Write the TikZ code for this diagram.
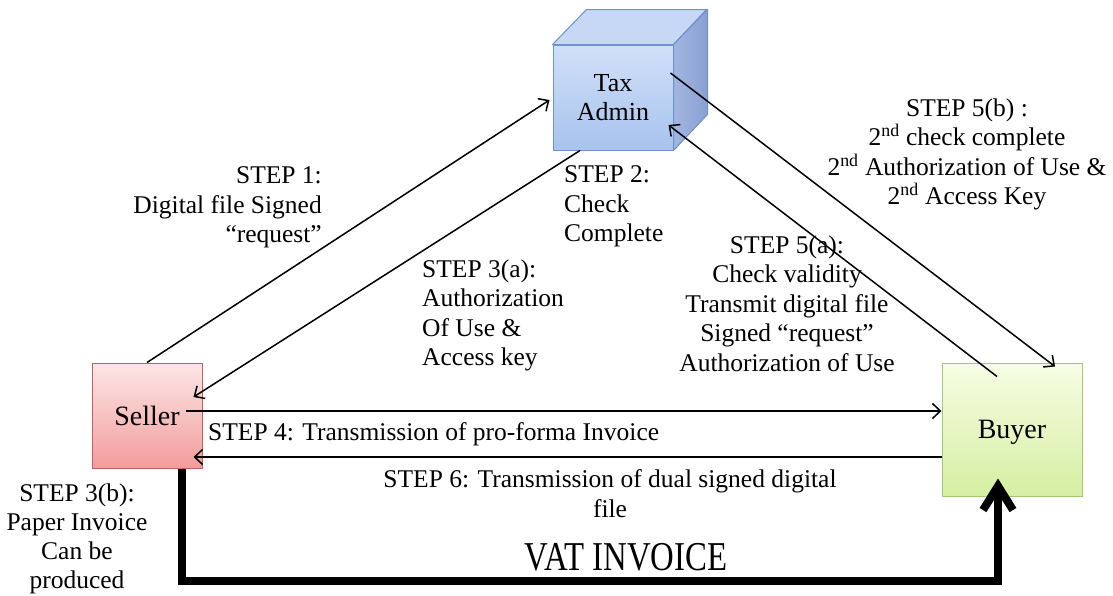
\documentclass[tikz,border=0pt]{standalone}
\usepackage{fontspec}
\setmainfont{Liberation Serif}
\usetikzlibrary{arrows.meta}
\definecolor{sellTop}{HTML}{FDE6E6}
\definecolor{sellBot}{HTML}{F39C9C}
\definecolor{sellLine}{HTML}{C2625F}
\definecolor{buyTop}{HTML}{F7FDE4}
\definecolor{buyBot}{HTML}{D5EFA2}
\definecolor{buyLine}{HTML}{A6C47A}
\definecolor{cubeTop}{HTML}{D0E0F8}
\definecolor{cubeBot}{HTML}{A8C3EE}
\definecolor{cubeLid}{HTML}{C7D8F5}
\definecolor{cubeSideA}{HTML}{A2B6E0}
\definecolor{cubeSideB}{HTML}{8AA0D2}
\definecolor{cubeLine}{HTML}{6F92CC}
\begin{document}
\begin{tikzpicture}[x=1pt,y=-1pt,
  lbl/.style={font=\fontsize{25.5}{29.5}\selectfont, inner sep=0pt},
  boxtext/.style={font=\fontsize{28}{30}\selectfont, inner sep=0pt},
  sellerbox/.style={boxtext, draw=sellLine, line width=1pt, top color=sellTop, bottom color=sellBot, minimum width=110pt, minimum height=105pt},
  buyerbox/.style={boxtext, draw=buyLine, line width=1pt, top color=buyTop, bottom color=buyBot, minimum width=140pt, minimum height=133pt, text height=18pt, text depth=0pt},
  cubefront/.style={font=\fontsize{26}{29}\selectfont, inner sep=0pt, align=center, draw=cubeLine, line width=1pt, top color=cubeTop, bottom color=cubeBot, minimum width=120pt, minimum height=105pt},
  arr/.style={line width=1.5pt, -{Straight Barb[length=8pt,width=15pt]}},
  bigarr/.style={line width=8pt, line join=miter, -{Straight Barb[length=24pt,width=30pt]}}
]
\useasboundingbox (0,0) rectangle (1113,595);
\fill[white] (0,0) rectangle (1113,595);

% boxes
\node[sellerbox] (seller) at (147,415.5) {Seller};
\node[buyerbox] (buyer) at (1012,429.5) {Buyer};
\node[cubefront] (tax) at (613,97.5) {\raisebox{-2pt}{Tax}\\\raisebox{-2pt}{Admin}};
\draw[cubeLine, line width=1pt, fill=cubeLid, line join=round]
  (tax.north west) -- ++(34,-35) -- ++(120,0) -- (tax.north east) -- cycle;
\draw[cubeLine, line width=1pt, left color=cubeSideA, right color=cubeSideB, line join=round]
  (tax.north east) -- ++(34,-35) -- ++(0,105) -- (tax.south east) -- cycle;

% connectors
\draw[arr] (seller.north) -- ([shift={(-3,2.5)}]tax.west);
\draw[arr] ([xshift=-33pt]tax.south) -- ([shift={(-9,-18.5)}]seller.east);
\draw[arr] ([shift={(-17,-4.5)}]seller.east) -- ([shift={(0,-18.5)}]buyer.west);
\draw[arr] ([shift={(0,27.5)}]buyer.west) -- ([shift={(-9,41.5)}]seller.east);
\draw[arr] ([shift={(-15,14)}]buyer.north) -- ([shift={(-5,27.5)}]tax.east);
\draw[arr] ([shift={(-3,-24.5)}]tax.east) -- ([shift={(43,4)}]buyer.north);
\draw[bigarr] ([xshift=35pt]seller.south) |- ([shift={(-14,84)}]buyer.south) -- ([shift={(-14,-18)}]buyer.south);

% labels
\node[lbl, anchor=north east, align=right] (l1) at (322,166.5) {STEP 1:\\Digital file Signed\\“request”};
\node[lbl, anchor=north west, align=left] (l2) at (564,165.5) {STEP 2:\\Check\\Complete};
\node[lbl, anchor=north west, align=left] (l3a) at (422,259.5) {STEP 3(a):\\Authorization\\Of Use \&\\Access key};
\node[lbl, anchor=north, align=center] (l5a) at (787,235.5) {STEP 5(a):\\Check validity\\Transmit digital file\\Signed “request”\\Authorization of Use};
\node[lbl, anchor=north, align=center] (l5b) at (967,98.5) {STEP 5(b) :\\2\textsuperscript{nd} check complete\\2\textsuperscript{nd} Authorization of Use \&\\2\textsuperscript{nd} Access Key};
\node[lbl, anchor=base west] (l4) at (208,440) {STEP 4: Transmission of pro-forma Invoice};
\node[lbl, anchor=north, align=center] (l6) at (610,469.5) {STEP 6: Transmission of dual signed digital\\file};
\node[lbl, anchor=north, align=center, font=\fontsize{25.5}{29}\selectfont] (l3b) at (77,484) {STEP 3(b):\\Paper Invoice\\Can be\\produced};
\node[inner sep=0pt, anchor=base] (vat) at (626,570) {\scalebox{0.8}[1]{\fontsize{41}{41}\selectfont VAT INVOICE}};
\end{tikzpicture}
\end{document}
